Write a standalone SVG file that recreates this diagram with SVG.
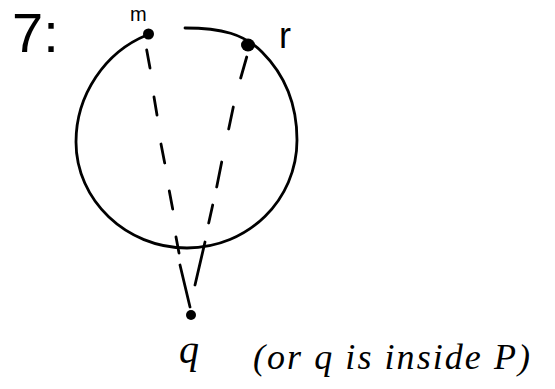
<svg xmlns="http://www.w3.org/2000/svg" width="555" height="389" viewBox="0 0 555 389">
<style>
.ln{fill:none;stroke:#000;stroke-width:2.8;stroke-linecap:round}
.dash{fill:none;stroke:#000;stroke-width:2.8;stroke-linecap:round}
.pt{fill:#000}
.lbl{font-family:"Liberation Sans",sans-serif;fill:#000}
.note{font-family:"Liberation Serif",serif;font-style:italic;fill:#000}
</style>
<rect width="555" height="389" fill="#fff"/>
<text class="lbl" x="12" y="52" font-size="56">7:</text>
<g id="circle">
<path class="ln" d="M185,28 C222,28 244,34 262,52 C285,75 297,105 297,140 C297,200 248,248 187,248 C126,248 76,200 76,142 C76,95 105,52 147,35"/>
</g>
<g id="connectors">
<path class="dash" d="M146.7,50 L150,68 M154,97 L157,115 M161,144 L164.7,163 M169.3,191 L172.7,209 M176,237 L179,253 M180,265 L190,307"/>
<path class="dash" d="M246.7,57 L240.7,78 M233.3,107 L228.7,129 M221.7,162 L216.7,187 M212.7,205 L208.7,223 M205,242 L195,285"/>
</g>
<g id="m"><circle class="pt" cx="148.5" cy="34" r="5.5"/><text class="lbl" x="130" y="21" font-size="20">m</text></g>
<g id="r"><ellipse class="pt" cx="248" cy="45" rx="7" ry="6.5"/><text class="lbl" x="279" y="48" font-size="36">r</text></g>
<g id="q"><circle class="pt" cx="191" cy="315" r="5"/><text class="note" x="179" y="363" font-size="40">q</text></g>
<text class="note" x="253" y="369" font-size="36" textLength="277" lengthAdjust="spacing">(or q is inside P)</text>
</svg>
